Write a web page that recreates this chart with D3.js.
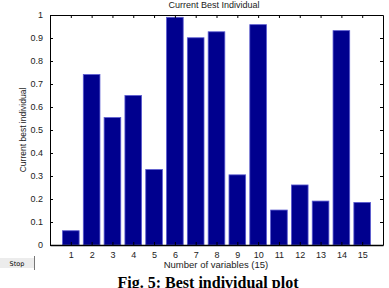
<!DOCTYPE html>
<html>
<head>
<meta charset="utf-8">
<script src="https://cdnjs.cloudflare.com/ajax/libs/d3/7.8.5/d3.min.js"></script>
<style>
  body { margin: 0; background: #fff; }
  svg { display: block; }
  .tick text { font-family: "Liberation Sans", Arial, sans-serif; font-size: 9px; fill: #222; }
  .lbl { font-family: "Liberation Sans", Arial, sans-serif; fill: #222; }
</style>
</head>
<body>
<script>
// values
const variables = [1, 2, 3, 4, 5, 6, 7, 8, 9, 10, 11, 12, 13, 14, 15];
const bestValues = [0.062, 0.741, 0.554, 0.650, 0.328, 0.990, 0.901, 0.927, 0.305, 0.958, 0.152, 0.261, 0.191, 0.932, 0.185];
const yTicks = [0, 0.1, 0.2, 0.3, 0.4, 0.5, 0.6, 0.7, 0.8, 0.9, 1];

const w = 389, h = 288;
const plotLeft = 50, plotRight = 383, plotTop = 15, plotBottom = 245;

const svg = d3.select("body").append("svg")
  .attr("width", w)
  .attr("height", h);

const x = d3.scaleLinear().domain([0, 16]).range([plotLeft, plotRight]);
const y = d3.scaleLinear().domain([0, 1]).range([plotBottom, plotTop]);
const barW = x(0.8) - x(0);

// bars
svg.selectAll("rect.bar")
  .data(variables)
  .enter()
  .append("rect")
  .attr("class", "bar")
  .attr("x", d => x(d) - barW / 2)
  .attr("y", (d, i) => y(bestValues[i]))
  .attr("width", barW)
  .attr("height", (d, i) => y(0) - y(bestValues[i]))
  .attr("fill", "#00008e")
  .attr("stroke", "#5a5ad0")
  .attr("stroke-width", 0.8);

// axes (ticks pointing inward, matlab style)
const fmt = d => d3.format("~g")(d);
svg.append("g")
  .attr("transform", "translate(0," + plotBottom + ")")
  .call(d3.axisBottom(x).tickValues(variables).tickSizeInner(-3).tickSizeOuter(0).tickPadding(7))
  .call(g => g.select(".domain").attr("stroke-width", 1.6));
svg.append("g")
  .attr("transform", "translate(0," + plotTop + ")")
  .call(d3.axisTop(x).tickValues(variables).tickSizeInner(-3).tickSizeOuter(0).tickFormat(""));
svg.append("g")
  .attr("transform", "translate(" + plotLeft + ",0)")
  .call(d3.axisLeft(y).tickValues(yTicks).tickFormat(fmt).tickSizeInner(-3).tickSizeOuter(0).tickPadding(7));
svg.append("g")
  .attr("transform", "translate(" + plotRight + ",0)")
  .call(d3.axisRight(y).tickValues(yTicks).tickSizeInner(-3).tickSizeOuter(0).tickFormat(""));

// titles
svg.append("text")
  .attr("class", "lbl")
  .attr("x", 214)
  .attr("y", 8)
  .style("font-size", "9px")
  .attr("text-anchor", "middle")
  .text("Current Best Individual");

svg.append("text")
  .attr("class", "lbl")
  .attr("x", 216)
  .attr("y", 268)
  .style("font-size", "9.5px")
  .attr("text-anchor", "middle")
  .text("Number of variables (15)");

svg.append("text")
  .attr("class", "lbl")
  .attr("transform", "translate(26," + ((plotTop + plotBottom) / 2) + ") rotate(-90)")
  .style("font-size", "8.5px")
  .attr("text-anchor", "middle")
  .text("Current best individual");

// stop button
svg.append("rect")
  .attr("x", 0).attr("y", 258)
  .attr("width", 34).attr("height", 10)
  .attr("fill", "#ececec");
svg.append("line")
  .attr("x1", 34.5).attr("x2", 34.5)
  .attr("y1", 256).attr("y2", 270)
  .attr("stroke", "#777");
svg.append("text")
  .attr("x", 17).attr("y", 266)
  .attr("text-anchor", "middle")
  .style("font-family", "'DejaVu Sans', sans-serif")
  .style("font-size", "6.5px")
  .text("Stop");

// caption (cut by the bottom edge, as in the source)
svg.append("text")
  .attr("x", 208)
  .attr("y", 288)
  .attr("text-anchor", "middle")
  .style("font-family", "'Liberation Serif', 'Times New Roman', serif")
  .style("font-weight", "bold")
  .style("font-size", "16px")
  .text("Fig. 5: Best individual plot");
</script>
</body>
</html>
